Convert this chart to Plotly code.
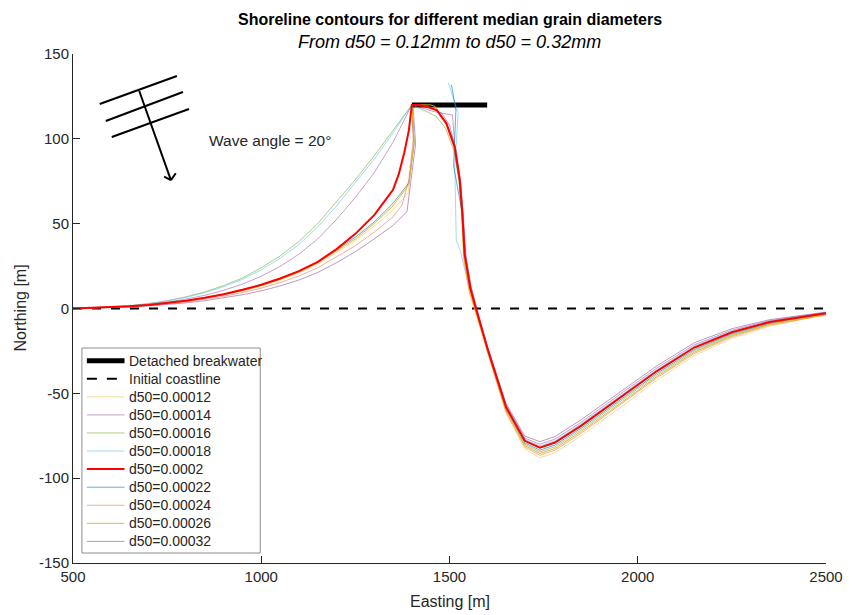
import plotly.graph_objects as go

# ---------------- data ----------------
labels = ["d50=0.00012", "d50=0.00014", "d50=0.00016", "d50=0.00018", "d50=0.0002",
          "d50=0.00022", "d50=0.00024", "d50=0.00026", "d50=0.00032"]

# updrift side of the salient, shared x grid
x_left = [500, 550, 600, 650, 700, 750, 800, 850, 900, 950, 1000,
          1050, 1100, 1150, 1200, 1250, 1300, 1350]
# downdrift side, shared x grid
x_right = [1600, 1650, 1700, 1740, 1780, 1850, 1950, 2050, 2150, 2250, 2350, 2450, 2500]

y_left_12 = [0, 0.3, 0.6, 1.2, 2, 3, 4.3, 5.9, 7.9, 10.3, 13.2, 16.8, 21, 26.3, 33, 40, 48.5, 58]
x_mid_12 = [1390, 1404, 1400, 1430, 1460, 1488, 1512, 1526, 1532, 1537, 1552, 1568]
y_mid_12 = [68, 96, 120, 120, 118, 110, 95, 76, 55, 30, 10, -2]
y_right_12 = [-25.4, -61.6, -82.8, -88.0, -85.0, -75.0, -59.0, -42.4, -27.8, -17.6, -10.4, -5.9, -4.0]

y_left_14 = [0, 0.3, 0.8, 1.4, 2.4, 3.7, 5.5, 7.8, 10.7, 14.4, 19, 24.8, 32, 41, 52.5, 65.5, 80, 98]
x_mid_14 = [1400, 1460, 1508, 1516, 1530, 1538, 1544, 1558, 1572]
y_mid_14 = [120, 116, 114, 90, 70, 45, 28, 12, 0]
y_right_14 = [-22.2, -56.8, -76.4, -80.0, -77.0, -67.0, -51.0, -35.2, -21.4, -12.8, -7.2, -4.0, -2.4]

y_left_16 = [0, 0.4, 0.9, 1.7, 2.9, 4.6, 6.9, 9.8, 13.5, 18, 24, 31, 39.5, 50, 63, 76, 90, 105]
x_mid_16 = [1400, 1440, 1466, 1490, 1512, 1525, 1533, 1539, 1556, 1571]
y_mid_16 = [120, 116, 113, 106, 93, 75, 55, 32, 11, -1]
y_right_16 = [-24.0, -59.5, -80.0, -84.5, -81.5, -71.5, -55.5, -39.3, -25.0, -15.5, -9.0, -5.1, -3.3]

y_left_18 = [0, 0.4, 0.9, 1.6, 2.7, 4.3, 6.5, 9.3, 12.8, 17.2, 22.8, 29.5, 37.8, 48, 60.5, 74, 88, 103.5]
x_mid_18 = [1400, None, 1497, 1523, 1514, 1518, 1529, 1550, 1569]
y_mid_18 = [120, None, 133, 115, 84, 40, 34, 14, 0]
y_right_18 = [-22.6, -57.4, -77.2, -81.0, -78.0, -68.0, -52.0, -36.1, -22.2, -13.4, -7.6, -4.3, -2.6]

y_left_20 = [0, 0.3, 0.7, 1.3, 2.1, 3.2, 4.6, 6.3, 8.4, 11, 14, 17.7, 22, 27.5, 35, 44, 55, 70]
x_mid_20 = [1365, 1380, 1392, 1400, 1420, 1440, 1466, 1492, 1514, 1527, 1534, 1540, 1555, 1570]
y_mid_20 = [79, 92, 105, 120, 120, 119, 117, 109, 95, 76, 56, 32, 12, 0]
y_right_20 = [-23.0, -58.0, -78.0, -82.0, -79.0, -69.0, -53.0, -37.0, -23.0, -14.0, -8.0, -4.5, -2.8]

y_left_22 = [0, 0.3, 0.7, 1.3, 2.1, 3.2, 4.6, 6.3, 8.4, 11, 14, 17.7, 22, 27.5, 34.5, 42, 51, 62]
x_mid_22 = [1392, 1406, 1400, None, 1505, 1517, 1511, 1523, 1534, 1540, 1555, 1570]
y_mid_22 = [74, 97, 120, None, 132, 117, 84, 70, 56, 33, 12, 0]
y_right_22 = [-23.6, -58.9, -79.2, -83.5, -80.5, -70.5, -54.5, -38.4, -24.2, -14.9, -8.6, -4.9, -3.1]

y_left_24 = [0, 0.2, 0.6, 1.1, 1.8, 2.7, 3.9, 5.4, 7.2, 9.4, 12, 15.3, 19.2, 24, 30.3, 37, 45, 54]
x_mid_24 = [1374, 1392, 1404, 1400, 1445, 1470, 1494, 1515, 1529, 1536, 1542, 1557, 1572]
y_mid_24 = [61, 76, 100, 120, 119, 116, 108, 94, 75, 55, 32, 12, -1]
y_right_24 = [-24.8, -60.7, -81.6, -86.5, -83.5, -73.5, -57.5, -41.0, -26.6, -16.7, -9.8, -5.6, -3.7]

y_left_26 = [0, 0.3, 0.7, 1.2, 2, 3.1, 4.4, 6.1, 8.1, 10.6, 13.5, 17.2, 21.5, 27, 33.8, 41, 50, 60.5]
x_mid_26 = [1392, 1406, 1400, 1450, 1462, 1490, 1513, 1528, 1534, 1538, 1553, 1568]
y_mid_26 = [73, 98, 120, 120, 119, 110, 96, 76, 54, 30, 10, -1]
y_right_26 = [-24.4, -60.1, -80.8, -85.5, -82.5, -72.5, -56.5, -40.2, -25.8, -16.1, -9.4, -5.3, -3.5]

y_left_32 = [0, 0.2, 0.5, 0.9, 1.5, 2.3, 3.3, 4.6, 6.2, 8.1, 10.4, 13.3, 16.8, 21.2, 27, 33.5, 41, 49]
x_mid_32 = [1387, 1410, 1403, 1450, 1480, 1500, 1518, 1530, 1537, 1543, 1558, 1573]
y_mid_32 = [57, 97, 120, 118, 115, 108, 93, 74, 54, 32, 12, 0]
y_right_32 = [-21.6, -55.9, -75.2, -78.5, -75.5, -65.5, -49.5, -33.9, -20.2, -11.9, -6.6, -3.7, -2.1]

breakwater_x = [1400, 1600]
breakwater_y = [120, 120]
coast_x = [500, 2500]
coast_y = [0, 0]

x_ticks = [500, 1000, 1500, 2000, 2500]
x_ticktext = ["500", "1000", "1500", "2000", "2500"]
y_ticks = [-150, -100, -50, 0, 50, 100, 150]
y_ticktext = ["-150", "-100", "-50", "0", "50", "100", "150"]

# wave icon (decoration), data coordinates
crest_x = [[571, 776], [587, 792], [603, 808]]
crest_y = [[120.5, 137.0], [110.5, 127.6], [101.1, 117.6]]
arrow_x = [676, 760]
arrow_y = [128.2, 75.7]
head_x = [742, 760, 773]
head_y = [77.7, 75.7, 79.7]

# ---------------- styles ----------------
colors = ["rgba(237,177,32,0.45)", "rgba(126,47,142,0.45)", "rgba(119,172,48,0.6)",
          "rgba(77,190,238,0.55)", "rgb(255,0,0)", "rgba(0,114,189,0.6)",
          "rgba(217,83,25,0.45)", "rgba(237,177,32,0.95)", "rgba(126,47,142,0.5)"]
widths = [1, 1, 1, 1, 2, 1, 1, 1, 1]

series = [
    (y_left_12, x_mid_12, y_mid_12, y_right_12),
    (y_left_14, x_mid_14, y_mid_14, y_right_14),
    (y_left_16, x_mid_16, y_mid_16, y_right_16),
    (y_left_18, x_mid_18, y_mid_18, y_right_18),
    (y_left_20, x_mid_20, y_mid_20, y_right_20),
    (y_left_22, x_mid_22, y_mid_22, y_right_22),
    (y_left_24, x_mid_24, y_mid_24, y_right_24),
    (y_left_26, x_mid_26, y_mid_26, y_right_26),
    (y_left_32, x_mid_32, y_mid_32, y_right_32),
]

FONT = "Liberation Sans, Arial, sans-serif"
TXT = "#262626"

# plot-area geometry in pixels (used for the hand-drawn legend box)
W, H = 855, 615
ML, MR, MT, MB = 73, 22, 54, 52
PW, PH = W - ML - MR, H - MT - MB


def px(p):
    return (p - ML) / PW


def py(p):
    return (H - MB - p) / PH


fig = go.Figure()

fig.add_trace(go.Scatter(x=breakwater_x, y=breakwater_y, mode="lines",
                         line=dict(color="black", width=5),
                         name="Detached breakwater", showlegend=False))
fig.add_trace(go.Scatter(x=coast_x, y=coast_y, mode="lines",
                         line=dict(color="black", width=2, dash="9px,10px"),
                         name="Initial coastline", showlegend=False))

draw_order = [0, 1, 2, 3, 5, 6, 7, 8, 4]
for i in draw_order:
    yl, xm, ym, yr = series[i]
    xs = list(x_left) + list(xm) + list(x_right)
    ys = list(yl) + list(ym) + list(yr)
    fig.add_trace(go.Scatter(x=xs, y=ys, mode="lines", connectgaps=False,
                             line=dict(color=colors[i], width=widths[i]),
                             name=labels[i], showlegend=False))

shapes = []
for cx, cy in zip(crest_x, crest_y):
    shapes.append(dict(type="line", xref="x", yref="y", x0=cx[0], y0=cy[0], x1=cx[1], y1=cy[1],
                       line=dict(color="black", width=2)))
shapes.append(dict(type="line", xref="x", yref="y", x0=arrow_x[0], y0=arrow_y[0],
                   x1=arrow_x[1], y1=arrow_y[1], line=dict(color="black", width=2)))
shapes.append(dict(type="line", xref="x", yref="y", x0=head_x[0], y0=head_y[0],
                   x1=head_x[1], y1=head_y[1], line=dict(color="black", width=2)))
shapes.append(dict(type="line", xref="x", yref="y", x0=head_x[2], y0=head_y[2],
                   x1=head_x[1], y1=head_y[1], line=dict(color="black", width=2)))

annotations = [
    dict(text="<b>Shoreline contours for different median grain diameters</b>", x=0.5, y=1,
         xref="paper", yref="paper", xanchor="center", yanchor="middle", yshift=35,
         showarrow=False, font=dict(family=FONT, size=16, color="black")),
    dict(text="<i>From d50 = 0.12mm to d50 = 0.32mm</i>", x=0.5, y=1,
         xref="paper", yref="paper", xanchor="center", yanchor="middle", yshift=12,
         showarrow=False, font=dict(family=FONT, size=18, color="black")),
    dict(text="Easting [m]", x=0.5, y=0, xref="paper", yref="paper", xanchor="center",
         yanchor="middle", yshift=-38, showarrow=False, font=dict(family=FONT, size=16, color=TXT)),
    dict(text="Northing [m]", x=0, y=0.5, xref="paper", yref="paper", xanchor="center",
         yanchor="middle", xshift=-53, textangle=-90, showarrow=False,
         font=dict(family=FONT, size=16, color=TXT)),
    dict(text="Wave angle = 20°", x=855, y=99.3, xref="x", yref="y", xanchor="left",
         yanchor="middle", showarrow=False, font=dict(family=FONT, size=15.5, color=TXT)),
]

# ---- legend (drawn as shapes + text so the row pitch matches the original) ----
legend_names = ["Detached breakwater", "Initial coastline"] + labels
legend_colors = ["black", "black"] + colors
legend_widths = [5, 2] + widths
legend_dash = ["solid", "10px,10px"] + ["solid"] * len(labels)
LEG_L, LEG_R, LEG_T, LEG_B = 82, 262, 348, 553
ROW0, ROWH = 360.7, 18.07
shapes.append(dict(type="rect", xref="paper", yref="paper", x0=px(LEG_L), x1=px(LEG_R),
                   y0=py(LEG_B), y1=py(LEG_T), fillcolor="white",
                   line=dict(color="#8c8c8c", width=1), layer="above"))
for k, name in enumerate(legend_names):
    yk = ROW0 + k * ROWH
    shapes.append(dict(type="line", xref="paper", yref="paper", x0=px(87), x1=px(125),
                       y0=py(yk), y1=py(yk), layer="above",
                       line=dict(color=legend_colors[k], width=legend_widths[k],
                                 dash=legend_dash[k])))
    annotations.append(dict(text=name, x=px(127), y=py(yk), xref="paper", yref="paper",
                            xanchor="left", yanchor="middle", showarrow=False,
                            font=dict(family=FONT, size=14, color=TXT)))

axis_common = dict(showgrid=False, zeroline=False, showline=True, linecolor=TXT, linewidth=1,
                   ticks="inside", ticklen=7, tickcolor=TXT, mirror=False,
                   tickfont=dict(family=FONT, size=15, color=TXT))

fig.update_layout(
    width=W, height=H,
    margin=dict(l=ML, r=MR, t=MT, b=MB),
    paper_bgcolor="white", plot_bgcolor="white",
    xaxis=dict(range=[500, 2500], tickvals=x_ticks, ticktext=x_ticktext, **axis_common),
    yaxis=dict(range=[-150, 150], tickvals=y_ticks, ticktext=y_ticktext, **axis_common),
    shapes=shapes, annotations=annotations,
    showlegend=False,
)

fig.write_html("out.html")
